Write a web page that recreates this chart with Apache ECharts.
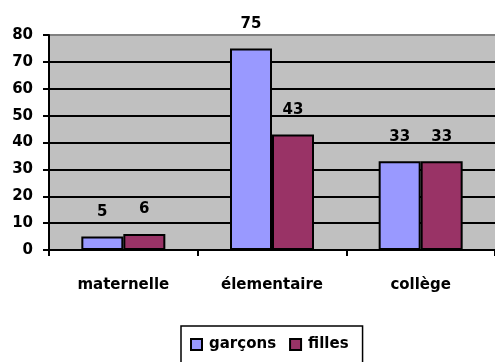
<!DOCTYPE html>
<html>
<head>
<meta charset="utf-8">
<script src="https://cdn.jsdelivr.net/npm/echarts@6/dist/echarts.min.js"></script>
<style>
html,body{margin:0;padding:0;background:#fff;}
#chart{width:495px;height:362px;}
</style>
</head>
<body>
<div id="chart"></div>
<script>
var categories = ['maternelle', 'élementaire', 'collège'];
var garcons = [5, 75, 33];
var filles = [6, 43, 33];
var seriesNames = ['garçons', 'filles'];
var yTicks = {min: 0, max: 80, interval: 10};

var FONT = 'DejaVu Sans';
var txt = {fontFamily: FONT, fontWeight: 'bold', fontSize: 15, color: '#000'};

var chart = echarts.init(document.getElementById('chart'), null, {renderer: 'canvas'});
var splitColors = [];
for (var i = 0; i < 8; i++) splitColors.push('#000');
splitColors.push('#808080');

chart.setOption({
  animation: false,
  backgroundColor: '#fff',
  grid: {
    left: 49, top: 35, right: -3, bottom: 112,
    show: true, backgroundColor: '#C0C0C0', borderWidth: 0,
    containLabel: false
  },
  legend: {
    left: 181, top: 326,
    padding: [11, 14, 12, 9],
    borderColor: '#000', borderWidth: 1.5,
    itemWidth: 11, itemHeight: 11, itemGap: 13,
    icon: 'rect',
    itemStyle: {borderColor: '#000', borderWidth: 2},
    textStyle: Object.assign({}, txt, {padding: [0, 0, 0, 2]}),
    data: seriesNames
  },
  xAxis: {
    type: 'category',
    data: categories,
    axisLine: {lineStyle: {color: '#000', width: 2}},
    axisTick: {show: true, length: 6, lineStyle: {color: '#000', width: 2}},
    axisLabel: Object.assign({}, txt, {margin: 28, interval: 0}),
    splitLine: {show: false}
  },
  yAxis: {
    type: 'value',
    min: yTicks.min, max: yTicks.max, interval: yTicks.interval,
    axisLine: {show: true, lineStyle: {color: '#000', width: 2}},
    axisTick: {show: true, length: 6, lineStyle: {color: '#000', width: 2}},
    axisLabel: Object.assign({}, txt, {margin: 16}),
    splitLine: {show: true, lineStyle: {color: splitColors, width: 2}}
  },
  series: [
    {
      name: seriesNames[0], type: 'bar', data: garcons,
      barWidth: 42, barGap: '0%',
      itemStyle: {color: '#9999FF', borderColor: '#000', borderWidth: 2},
      label: Object.assign({show: true, position: 'top', distance: 17}, txt)
    },
    {
      name: seriesNames[1], type: 'bar', data: filles,
      barWidth: 42, barGap: '0%',
      itemStyle: {color: '#993366', borderColor: '#000', borderWidth: 2},
      label: Object.assign({show: true, position: 'top', distance: 17}, txt)
    }
  ]
});
</script>
</body>
</html>
